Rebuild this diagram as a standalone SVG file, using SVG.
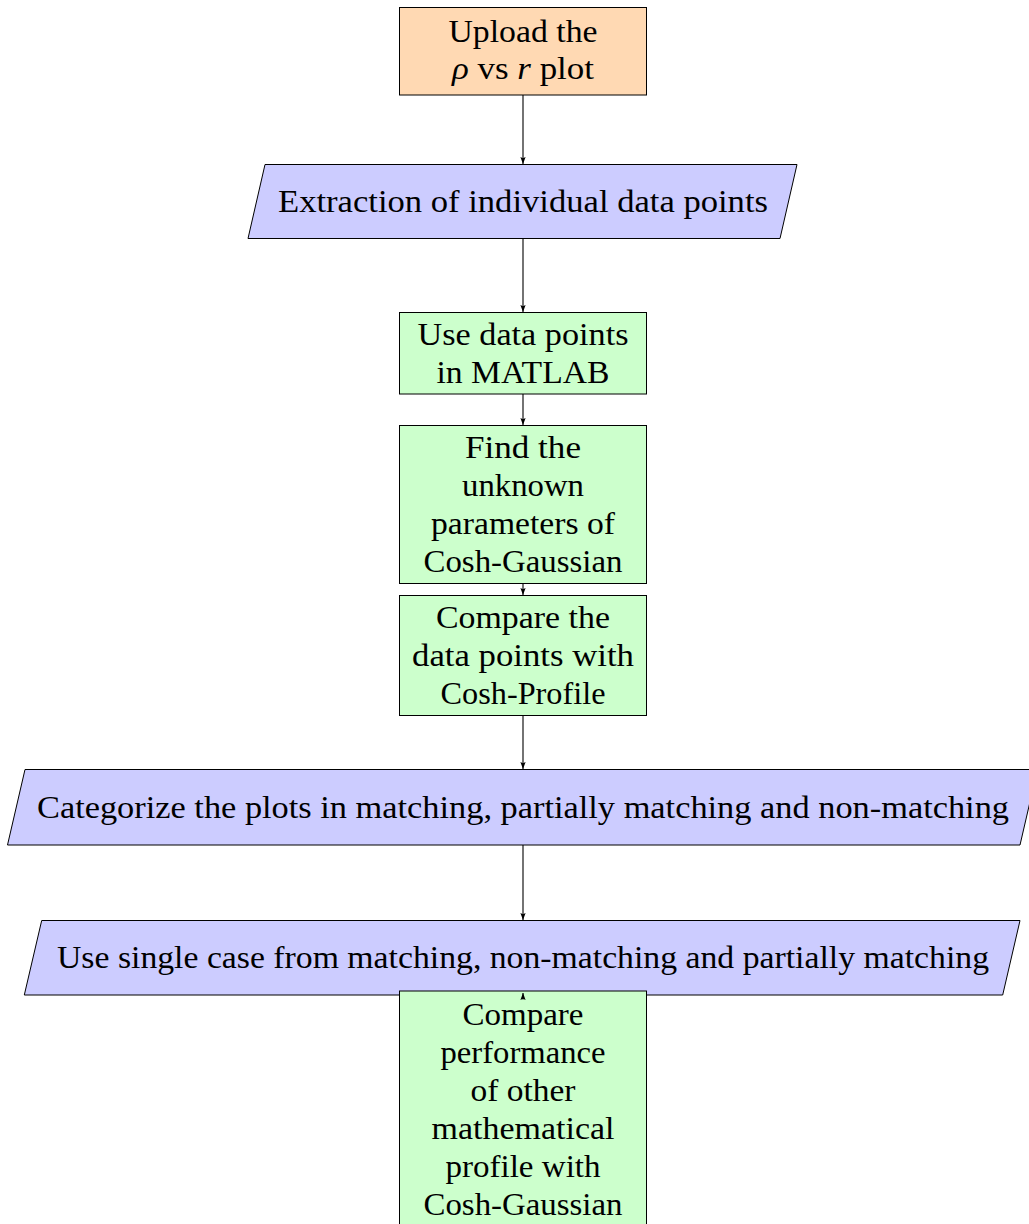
<svg xmlns="http://www.w3.org/2000/svg" width="1029" height="1224" viewBox="0 0 1029 1224">
<style>
  .box { stroke: #000; stroke-width: 1; }
  .start { fill: #FFD9B3; }
  .io { fill: #CCCCFF; }
  .proc { fill: #CCFFCC; }
  text { font-size: 31.5px; fill: #000; text-anchor: middle; }
  .m { font-style: italic; }
  .conn line { stroke: #000; stroke-width: 1.1; fill: none; marker-end: url(#arr); }
</style>
<defs>
  <marker id="arr" viewBox="0 0 7 6" refX="7" refY="3" markerWidth="7" markerHeight="6" markerUnits="userSpaceOnUse" orient="auto">
    <path d="M0,0.4 L7,3 L0,5.6 L1.2,3 z" fill="#000"/>
  </marker>
</defs>
<rect width="1029" height="1224" fill="#fff"/>

<g font-family="'Liberation Serif', 'Times New Roman', serif">
<g id="upload">
  <rect class="box start" x="399.5" y="7.5" width="247" height="87.5"/>
  <text x="523" y="42" textLength="149" lengthAdjust="spacingAndGlyphs">Upload the</text>
  <text x="523" y="79" textLength="142" lengthAdjust="spacingAndGlyphs"><tspan class="m">ρ</tspan> vs <tspan class="m">r</tspan> plot</text>
</g>

<g id="extraction">
  <polygon class="box io" points="265,164.5 797,164.5 780,238.5 248,238.5"/>
  <text x="523" y="212" textLength="490" lengthAdjust="spacingAndGlyphs">Extraction of individual data points</text>
</g>

<g id="matlab">
  <rect class="box proc" x="399.5" y="312.5" width="247" height="81.5"/>
  <text x="523" y="345" textLength="211" lengthAdjust="spacingAndGlyphs">Use data points</text>
  <text x="523" y="383" textLength="173" lengthAdjust="spacingAndGlyphs">in MATLAB</text>
</g>

<g id="find">
  <rect class="box proc" x="399.5" y="425.5" width="247" height="158"/>
  <text x="523" y="458" textLength="116" lengthAdjust="spacingAndGlyphs">Find the</text>
  <text x="523" y="496" textLength="122" lengthAdjust="spacingAndGlyphs">unknown</text>
  <text x="523" y="534" textLength="184" lengthAdjust="spacingAndGlyphs">parameters of</text>
  <text x="523" y="572" textLength="199" lengthAdjust="spacingAndGlyphs">Cosh-Gaussian</text>
</g>

<g id="compare">
  <rect class="box proc" x="399.5" y="595.5" width="247" height="120"/>
  <text x="523" y="628" textLength="174" lengthAdjust="spacingAndGlyphs">Compare the</text>
  <text x="523" y="666" textLength="222" lengthAdjust="spacingAndGlyphs">data points with</text>
  <text x="523" y="704" textLength="165" lengthAdjust="spacingAndGlyphs">Cosh-Profile</text>
</g>

<g id="categorize">
  <polygon class="box io" points="25,769.5 1037.5,769.5 1020,845 7.5,845"/>
  <text x="523" y="818" textLength="972" lengthAdjust="spacingAndGlyphs">Categorize the plots in matching, partially matching and non-matching</text>
</g>

<g id="single">
  <polygon class="box io" points="41.7,920.5 1020,920.5 1002.7,995 24.3,995"/>
  <text x="523" y="968" textLength="932" lengthAdjust="spacingAndGlyphs">Use single case from matching, non-matching and partially matching</text>
</g>

<g id="performance">
  <rect class="box proc" x="399.5" y="991" width="247" height="245"/>
  <text x="523" y="1025" textLength="121" lengthAdjust="spacingAndGlyphs">Compare</text>
  <text x="523" y="1063" textLength="165" lengthAdjust="spacingAndGlyphs">performance</text>
  <text x="523" y="1101" textLength="105" lengthAdjust="spacingAndGlyphs">of other</text>
  <text x="523" y="1139" textLength="183" lengthAdjust="spacingAndGlyphs">mathematical</text>
  <text x="523" y="1177" textLength="155" lengthAdjust="spacingAndGlyphs">profile with</text>
  <text x="523" y="1215" textLength="199" lengthAdjust="spacingAndGlyphs">Cosh-Gaussian</text>
</g>
</g>

<g id="connectors" class="conn">
  <line x1="523" y1="95" x2="523" y2="164"/>
  <line x1="523" y1="238.5" x2="523" y2="312"/>
  <line x1="523" y1="394" x2="523" y2="425"/>
  <line x1="523" y1="583.5" x2="523" y2="595"/>
  <line x1="523" y1="715.5" x2="523" y2="769"/>
  <line x1="523" y1="845" x2="523" y2="920"/>
  <line x1="523" y1="999.5" x2="523" y2="993"/>
</g>
</svg>
